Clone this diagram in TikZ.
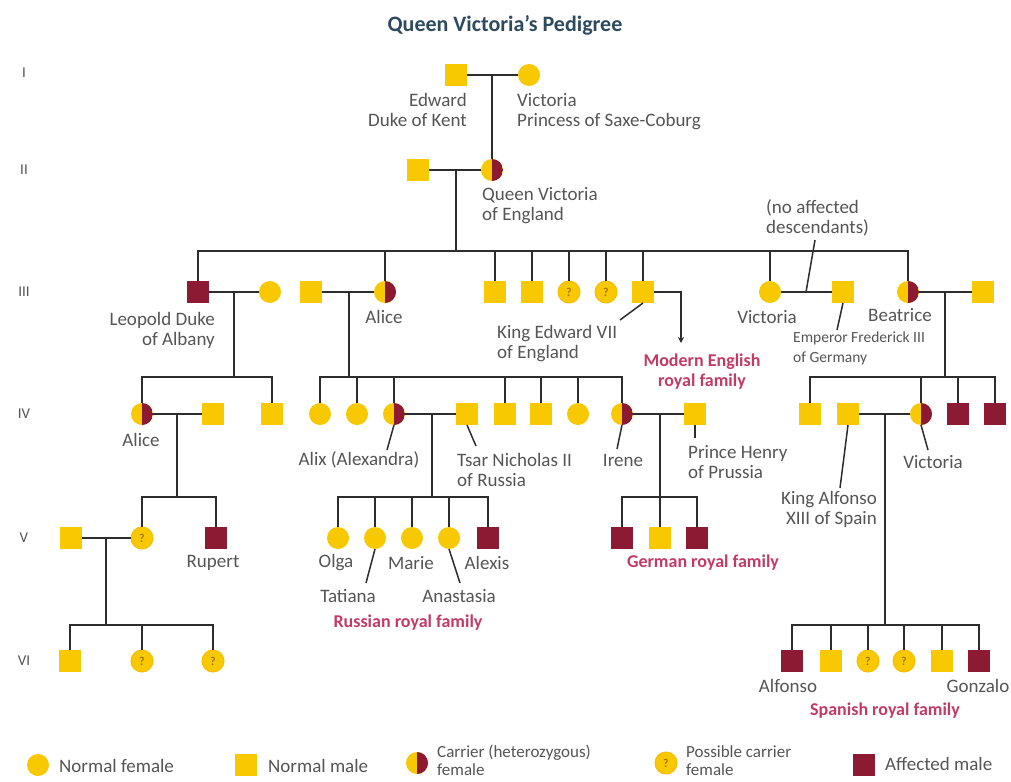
\documentclass[tikz,border=0pt]{standalone}
\usepackage{fontspec}
\setmainfont{Carlito}
\usetikzlibrary{arrows.meta}
\definecolor{vyellow}{RGB}{248,200,0}
\definecolor{vred}{RGB}{140,26,50}
\definecolor{vline}{RGB}{45,45,45}
\definecolor{vtext}{RGB}{85,85,85}
\definecolor{vtitle}{RGB}{45,75,95}
\definecolor{vcrimson}{RGB}{196,58,100}
\definecolor{vq}{RGB}{170,120,0}
\begin{document}
\begin{tikzpicture}[x=1pt,y=-1pt,
  sym/.style={minimum size=22pt, inner sep=0pt, outer sep=0pt},
  female/.style={sym, circle, fill=vyellow},
  male/.style={sym, rectangle, fill=vyellow},
  affected/.style={sym, rectangle, fill=vred},
  carrier/.style={sym, circle, fill=vyellow, path picture={\fill[vred] (path picture bounding box.north) rectangle (path picture bounding box.south east);}},
  possible/.style={sym, circle, fill=vyellow, draw=vyellow!85!orange, line width=1pt, font=\fontsize{12}{12}\selectfont\bfseries, text=vq},
  line/.style={draw=vline, line width=2.4pt},
  leader/.style={draw=vline, line width=1.5pt},
  lbl/.style={text=vtext, font=\fontsize{19}{20}\selectfont, inner sep=0pt},
  leglbl/.style={text=vtext, font=\fontsize{17}{18}\selectfont, inner sep=0pt},
  smalllbl/.style={text=vtext, font=\fontsize{15.5}{20}\selectfont, inner sep=0pt},
  fam/.style={text=vcrimson, font=\fontsize{18}{20}\selectfont\bfseries, inner sep=0pt},
  gen/.style={text=vtext, font=\fontsize{15}{16}\selectfont, inner sep=0pt},
]
\useasboundingbox[fill=white] (0,0) rectangle (1011,781);

% title
\node[text=vtitle, font=\fontsize{22}{24}\selectfont\bfseries, inner sep=0pt] (title) at (505,25) {Queen Victoria's Pedigree};

% generation numerals
\node[gen] (g1) at (24,73) {I};
\node[gen] (g2) at (24,170) {II};
\node[gen] (g3) at (24,292) {III};
\node[gen] (g4) at (24,414) {IV};
\node[gen] (g5) at (24,538) {V};
\node[gen] (g6) at (24,661) {VI};

% ---------- Generation I ----------
\node[male] (edward) at (456,75) {};
\node[female] (vicsc) at (529,75) {};
\coordinate (m1) at (492,75);
% ---------- Generation II ----------
\node[male] (albert) at (418,170) {};
\node[carrier] (qv) at (492,170) {};
\coordinate (m2) at (456,170);
\coordinate (s3) at (456,251);
% ---------- Generation III ----------
\node[affected] (leopold) at (198,292) {};
\node[female] (wife3) at (270,292) {};
\node[male] (louisH) at (311,292) {};
\node[carrier] (alice) at (385,292) {};
\node[male] (s3a) at (495,292) {};
\node[male] (s3b) at (532,292) {};
\node[possible] (p3a) at (569,292) {?};
\node[possible] (p3b) at (606,292) {?};
\node[male] (edw7) at (643,292) {};
\node[female] (vic3) at (770,292) {};
\node[male] (fred) at (843,292) {};
\node[carrier] (beat) at (908,292) {};
\node[male] (henryB) at (983,292) {};
\coordinate (m3a) at (234,292);
\coordinate (s4a) at (234,377);
\coordinate (m3b) at (349,292);
\coordinate (s4b) at (349,377);
\coordinate (m3c) at (945,292);
\coordinate (s4c) at (945,377);
\coordinate (engtip) at (681,343);
\coordinate (nam) at (806,292);
% ---------- Generation IV ----------
\node[carrier] (alice4) at (142,414) {};
\node[male] (alexA) at (213,414) {};
\node[male] (charles4) at (272,414) {};
\node[female] (iv1) at (320,414) {};
\node[female] (iv2) at (357,414) {};
\node[carrier] (alix) at (394,414) {};
\node[male] (tsar) at (467,414) {};
\node[male] (iv5) at (505,414) {};
\node[male] (iv6) at (541,414) {};
\node[female] (iv7) at (578,414) {};
\node[carrier] (irene) at (622,414) {};
\node[male] (henryP) at (695,414) {};
\node[male] (b1) at (810,414) {};
\node[male] (alf13) at (848,414) {};
\node[carrier] (vic4) at (921,414) {};
\node[affected] (b4) at (958,414) {};
\node[affected] (b5) at (995,414) {};
\coordinate (m4a) at (177,414);
\coordinate (s5a) at (177,497);
\coordinate (m4b) at (432,414);
\coordinate (s5b) at (432,497);
\coordinate (m4c) at (660,414);
\coordinate (s5c) at (660,497);
\coordinate (m4d) at (885,414);
\coordinate (s6b) at (885,625);
% ---------- Generation V ----------
\node[male] (husb5) at (71,538) {};
\node[possible] (alice5) at (142,538) {?};
\node[affected] (rupert) at (216,538) {};
\node[female] (olga) at (338,538) {};
\node[female] (tatiana) at (375,538) {};
\node[female] (marie) at (412,538) {};
\node[female] (anastasia) at (449,538) {};
\node[affected] (alexis) at (488,538) {};
\node[affected] (ger1) at (622,538) {};
\node[male] (ger2) at (660,538) {};
\node[affected] (ger3) at (697,538) {};
\coordinate (m5a) at (106,538);
\coordinate (s6a) at (106,625);
% ---------- Generation VI ----------
\node[male] (vi1) at (70,661) {};
\node[possible] (vi2) at (142,661) {?};
\node[possible] (vi3) at (213,661) {?};
\node[affected] (sp1) at (792,661) {};
\node[male] (sp2) at (831,661) {};
\node[possible] (sp3) at (868,661) {?};
\node[possible] (sp4) at (904,661) {?};
\node[male] (sp5) at (942,661) {};
\node[affected] (sp6) at (979,661) {};

% ---------- connectors ----------
\draw[line] (edward) -- (vicsc);
\draw[line] (m1) -- (qv);
\draw[line] (albert) -- (qv);
\draw[line] (m2) -- (s3);
\draw[line] (leopold.north) |- (s3) -| (beat.north);
\foreach \n in {alice,s3a,s3b,p3a,p3b,edw7,vic3} \draw[line] (\n.north) -- (\n.north |- s3);

\draw[line] (leopold) -- (wife3);
\draw[line] (louisH) -- (alice);
\draw[line] (vic3) -- (fred);
\draw[line] (beat) -- (henryB);
\draw[draw=vline, line width=1.6pt, -{Stealth[length=6pt,width=6pt]}] (edw7.east) -| (engtip);

\draw[line] (m3a) -- (s4a);
\draw[line] (alice4.north) |- (s4a) -| (charles4.north);
\draw[line] (alice4) -- (alexA);

\draw[line] (m3b) -- (s4b);
\draw[line] (iv1.north) |- (s4b) -| (irene.north);
\foreach \n in {iv2,alix,iv5,iv6,iv7} \draw[line] (\n.north) -- (\n.north |- s4b);
\draw[line] (alix) -- (tsar);
\draw[line] (irene) -- (henryP);

\draw[line] (m3c) -- (s4c);
\draw[line] (b1.north) |- (s4c) -| (b5.north);
\foreach \n in {vic4,b4} \draw[line] (\n.north) -- (\n.north |- s4c);
\draw[line] (alf13) -- (vic4);

\draw[line] (m4a) -- (s5a);
\draw[line] (alice5.north) |- (s5a) -| (rupert.north);
\draw[line] (husb5) -- (alice5);

\draw[line] (m4b) -- (s5b);
\draw[line] (olga.north) |- (s5b) -| (alexis.north);
\foreach \n in {tatiana,marie,anastasia} \draw[line] (\n.north) -- (\n.north |- s5b);

\draw[line] (m4c) -- (ger2.north);
\draw[line] (ger1.north) |- (s5c) -| (ger3.north);

\draw[line] (m5a) -- (s6a);
\draw[line] (vi1.north) |- (s6a) -| (vi3.north);
\draw[line] (vi2.north) -- (vi2.north |- s6a);

\draw[line] (m4d) -- (s6b);
\draw[line] (sp1.north) |- (s6b) -| (sp6.north);
\foreach \n in {sp2,sp3,sp4,sp5} \draw[line] (\n.north) -- (\n.north |- s6b);

% ---------- labels ----------
\node[lbl, align=right, anchor=north east] (lEdward) at (467,93) {Edward\\Duke of Kent};
\node[lbl, align=left, anchor=north west] (lVicSC) at (517,93) {Victoria\\Princess of Saxe-Coburg};
\node[lbl, align=left, anchor=north west] (lQV) at (482,187) {Queen Victoria\\of England};
\node[lbl, align=left, anchor=north west] (lNoAff) at (766,199) {(no affected\\descendants)};
\coordinate (ldNoAff) at (815,240);
\draw[leader] (ldNoAff) -- (nam);

\node[lbl, align=right, anchor=north east] (lLeopold) at (215,312) {Leopold Duke\\of Albany};
\node[lbl] (lAlice3) at (384,317) {Alice};
\node[lbl, align=left, anchor=north west] (lEdw7) at (497,325) {King Edward VII\\of England};
\coordinate (ldEdw7) at (620,320);
\draw[leader] (edw7.south) -- (ldEdw7);
\node[fam, align=center, anchor=north] (lModern) at (702,354) {Modern English\\royal family};
\node[lbl] (lVic3) at (767,317) {Victoria};
\node[lbl] (lBeat) at (900,315) {Beatrice};
\node[smalllbl, align=left, anchor=north west] (lFred) at (793,332) {Emperor Frederick III\\of Germany};
\coordinate (ldFred) at (837,330);
\draw[leader] (fred.south) -- (ldFred);

\node[lbl] (lAlice4) at (141,440) {Alice};
\node[lbl] (lAlix) at (359,460) {Alix (Alexandra)};
\coordinate (ldAlix) at (387,450);
\draw[leader] (alix.south) -- (ldAlix);
\node[lbl, align=left, anchor=north west] (lTsar) at (457,453) {Tsar Nicholas II\\of Russia};
\coordinate (ldTsar) at (476,446);
\draw[leader] (tsar.south) -- (ldTsar);
\node[lbl] (lIrene) at (623,460) {Irene};
\coordinate (ldIrene) at (617,449);
\draw[leader] (irene.south) -- (ldIrene);
\node[lbl, align=left, anchor=north west] (lHenryP) at (688,445) {Prince Henry\\of Prussia};
\coordinate (ldHenryP) at (695,438);
\draw[leader] (henryP.south) -- (ldHenryP);
\node[lbl] (lVic4) at (933,462) {Victoria};
\coordinate (ldVic4) at (928,450);
\draw[leader] (vic4.south) -- (ldVic4);
\node[lbl, align=right, anchor=north east] (lAlf13) at (877,491) {King Alfonso\\XIII of Spain};
\coordinate (ldAlf13) at (840,488);
\draw[leader] (alf13.south) -- (ldAlf13);

\node[lbl] (lRupert) at (213,563) {Rupert};
\node[lbl] (lOlga) at (336,563) {Olga};
\node[lbl] (lMarie) at (411,563) {Marie};
\node[lbl] (lAlexis) at (487,563) {Alexis};
\node[lbl] (lTatiana) at (348,596) {Tatiana};
\node[lbl] (lAnastasia) at (459,596) {Anastasia};
\coordinate (ldTatiana) at (366,583);
\coordinate (ldAnastasia) at (460,583);
\draw[leader] (tatiana.south) -- (ldTatiana);
\draw[leader] (anastasia.south) -- (ldAnastasia);
\node[fam] (lRussian) at (408,623) {Russian royal family};
\node[fam] (lGerman) at (703,563) {German royal family};

\node[lbl] (lAlfonso) at (788,686) {Alfonso};
\node[lbl] (lGonzalo) at (978,686) {Gonzalo};
\node[fam] (lSpanish) at (885,711) {Spanish royal family};

% ---------- legend ----------
\node[female] (legF) at (38,765) {};
\node[lbl, anchor=west] (legFt) at (59,766) {Normal female};
\node[male] (legM) at (246,765) {};
\node[lbl, anchor=west] (legMt) at (268,766) {Normal male};
\node[carrier] (legC) at (417,763) {};
\node[leglbl, align=left, anchor=north west] (legCt) at (437,745) {Carrier (heterozygous)\\female};
\node[possible] (legP) at (666,763) {?};
\node[leglbl, align=left, anchor=north west] (legPt) at (686,745) {Possible carrier\\female};
\node[affected] (legA) at (864,765) {};
\node[lbl, anchor=west] (legAt) at (885,764) {Affected male};
\end{tikzpicture}
\end{document}
